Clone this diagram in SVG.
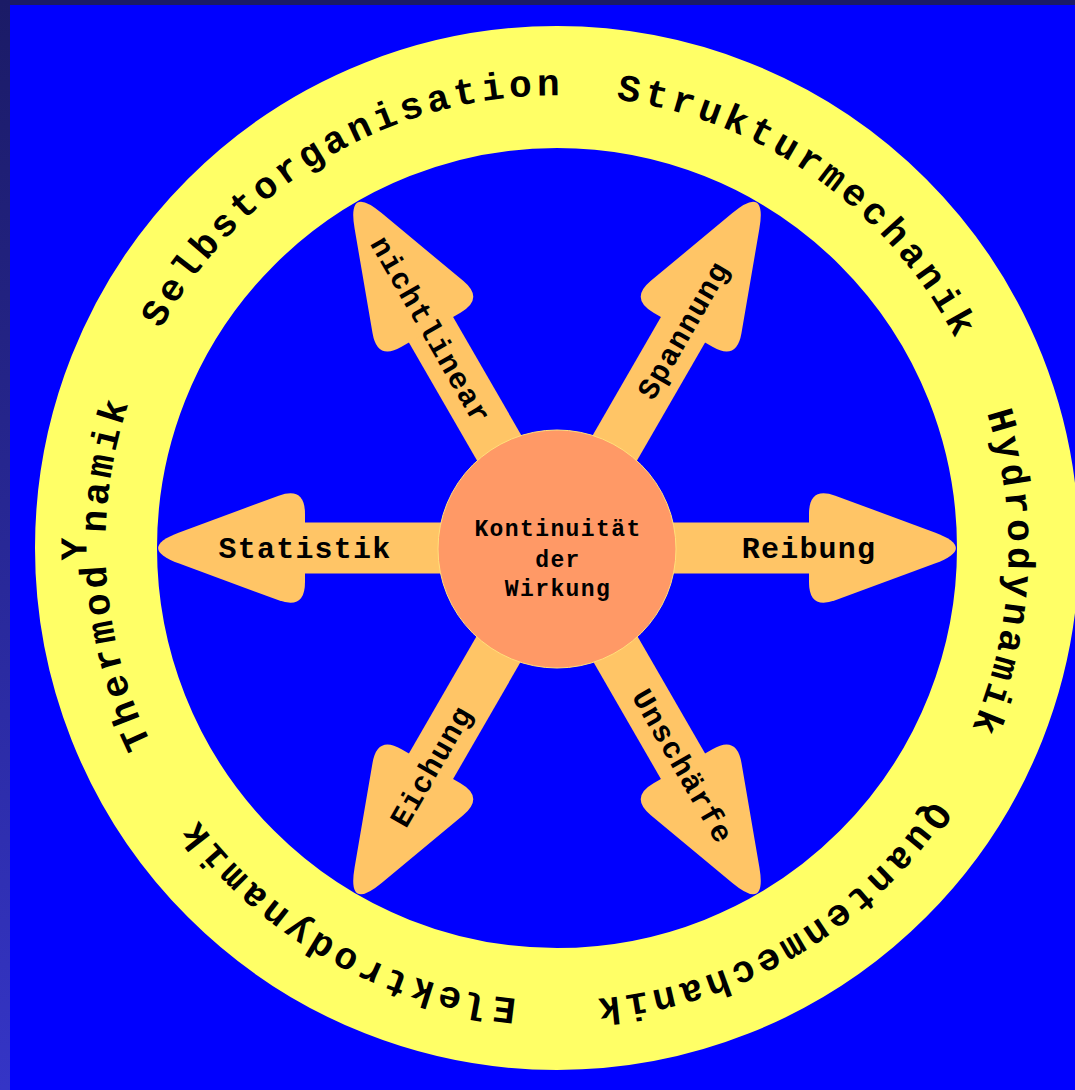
<svg xmlns="http://www.w3.org/2000/svg" width="1075" height="1090" viewBox="0 0 1075 1090">
<defs>
<style>
.bg{fill:#0000FF;}
.ring{fill:none;stroke:#FFFF66;stroke-width:122;}
.arrow{fill:#FFC566;}
.hub{fill:#FF9966;stroke:#FFE07A;stroke-width:1;}
.ring-text{font-family:"Liberation Mono","DejaVu Sans Mono",monospace;font-size:38px;font-weight:bold;letter-spacing:4.4px;fill:#000;}
.arrow-label{font-family:"Liberation Mono","DejaVu Sans Mono",monospace;font-size:30px;font-weight:bold;letter-spacing:1.2px;text-anchor:middle;fill:#000;}
.hub-label{font-family:"Liberation Mono","DejaVu Sans Mono",monospace;font-size:23px;font-weight:bold;letter-spacing:1.4px;text-anchor:middle;fill:#000;}
</style>
<linearGradient id="edge" x1="0" y1="0" x2="0" y2="1">
<stop offset="0" stop-color="#1b1b66"/>
<stop offset="1" stop-color="#3535c6"/>
</linearGradient>
<path id="ringPath" d="M 167.3,773 A 450 450 0 1 1 946.7,323 A 450 450 0 1 1 167.3,773"/>
<g id="arrowShape">
<rect x="100" y="-25.5" width="165" height="51"/>
<path d="M 252,-34 L 252,34 Q 252,62 278.3,52.3 L 377.8,15.6 Q 420,0 377.8,-15.6 L 278.3,-52.3 Q 252,-62 252,-34 Z"/>
</g>
</defs>

<rect class="bg" x="0" y="0" width="1075" height="1090"/>
<rect x="0" y="0" width="1075" height="5" fill="#1b1b66"/>
<rect x="0" y="0" width="10" height="1090" fill="url(#edge)"/>

<g id="ring">
<circle class="ring" cx="557" cy="548" r="461"/>
<text class="ring-text"><textPath href="#ringPath" startOffset="33">Thermod<tspan dy="-19">Y</tspan><tspan dy="19">namik</tspan></textPath></text>
<text class="ring-text"><textPath href="#ringPath" startOffset="464">Selbstorganisation</textPath></text>
<text class="ring-text"><textPath href="#ringPath" startOffset="1006">Strukturmechanik</textPath></text>
<text class="ring-text"><textPath href="#ringPath" startOffset="1518">Hydrodynamik</textPath></text>
<text class="ring-text"><textPath href="#ringPath" startOffset="1922">Quantenmechanik</textPath></text>
<text class="ring-text"><textPath href="#ringPath" startOffset="2406">Elektrodynamik</textPath></text>
</g>

<g id="connectors" class="arrow">
<use id="arrow-reibung" href="#arrowShape" transform="translate(557,548) rotate(0)"/>
<use id="arrow-spannung" href="#arrowShape" transform="translate(557,548) rotate(-60)"/>
<use id="arrow-nichtlinear" href="#arrowShape" transform="translate(557,548) rotate(-120)"/>
<use id="arrow-statistik" href="#arrowShape" transform="translate(557,548) rotate(180)"/>
<use id="arrow-eichung" href="#arrowShape" transform="translate(557,548) rotate(120)"/>
<use id="arrow-unschaerfe" href="#arrowShape" transform="translate(557,548) rotate(60)"/>
</g>

<g id="arrow-labels">
<text class="arrow-label" transform="translate(809,548)" y="10">Reibung</text>
<text class="arrow-label" transform="translate(683,330) rotate(-60)" y="10">Spannung</text>
<text class="arrow-label" transform="translate(431,330) rotate(60)" y="10">nichtlinear</text>
<text class="arrow-label" transform="translate(305,548)" y="10">Statistik</text>
<text class="arrow-label" transform="translate(431,766) rotate(-60)" y="10">Eichung</text>
<text class="arrow-label" transform="translate(683,766) rotate(60)" y="10">Unschärfe</text>
</g>

<g id="hub-node">
<circle class="hub" cx="557" cy="549" r="119"/>
<text class="hub-label" x="558" y="536">Kontinuität</text>
<text class="hub-label" x="558" y="567">der</text>
<text class="hub-label" x="558" y="596">Wirkung</text>
</g>
</svg>
